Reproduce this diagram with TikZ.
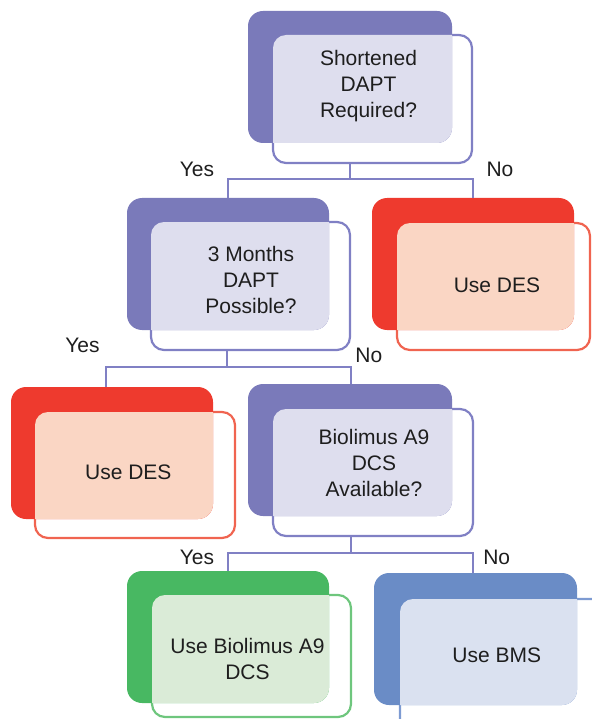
\documentclass[tikz,border=0pt]{standalone}
\usepackage{fontspec}
\setmainfont{Liberation Sans}
\usetikzlibrary{fit}
\definecolor{pdark}{RGB}{122,122,186}
\definecolor{plight}{RGB}{222,222,238}
\definecolor{pline}{RGB}{128,128,196}
\definecolor{rdark}{RGB}{238,58,46}
\definecolor{rlight}{RGB}{250,214,196}
\definecolor{rline}{RGB}{240,100,80}
\definecolor{gdark}{RGB}{72,184,98}
\definecolor{glight}{RGB}{218,235,215}
\definecolor{gline}{RGB}{110,198,125}
\definecolor{bdark}{RGB}{106,140,198}
\definecolor{blight}{RGB}{218,225,240}
\definecolor{bline}{RGB}{125,155,210}
\definecolor{txt}{RGB}{30,30,30}
\newcommand{\flowbox}[6]{%
  \node[frontbox, draw=#6line, fit={#4 #5}] (#1) {};
  \node[backbox, fill=#6dark, fit={#2 #3}] (#1b) {};
  \begin{scope}
    \clip[rounded corners=15pt] (#1b.north west) rectangle (#1b.south east);
    \fill[#6light, rounded corners=13pt] (#1.north west) rectangle (#1.south east);
  \end{scope}
}
\begin{document}
\begin{tikzpicture}[x=1pt,y=-1pt,
  backbox/.style={rectangle, rounded corners=15pt, inner sep=0pt, outer sep=0pt},
  frontbox/.style={rectangle, rounded corners=13pt, line width=2.2pt, inner sep=0pt, outer sep=0pt},
  lbl/.style={font=\fontsize{21}{26}\selectfont, text=txt, inner sep=0pt, align=center},
  conn/.style={draw=pline, line width=2.3pt}]
\useasboundingbox (0,0) rectangle (591,719);

% connectors
\coordinate (j1) at (350,179);
\coordinate (j2) at (227,367);
\coordinate (k2) at (106,367);
\coordinate (m2) at (351,367);
\coordinate (j3) at (351,553);
\coordinate (k3) at (228,553);
\coordinate (m3) at (473,553);

% boxes
\flowbox{q1}{(248,11)}{(452,143)}{(273,35)}{(472,163)}{p}
\flowbox{q2}{(127,198)}{(329,330)}{(151,222)}{(350,350)}{p}
\flowbox{d1}{(372,198)}{(574,330)}{(397,223)}{(590,350)}{r}
\flowbox{d2}{(11,387)}{(213,519)}{(35,412)}{(235,538)}{r}
\flowbox{q3}{(248,384)}{(452,516)}{(273,409)}{(473,536)}{p}
\flowbox{g1}{(127,571)}{(329,703)}{(152,595)}{(351,717)}{g}
\flowbox{b1}{(374,573)}{(577,705)}{(400,599)}{(610,735)}{b}

\draw[conn] (q1.south -| j1) -- (j1);
\draw[conn] (j1) -| (q2b.north);
\draw[conn] (j1) -| (d1b.north);
\draw[conn] (q2.south -| j2) -- (j2);
\draw[conn] (j2) -- (k2) -- (k2 |- d2b.north);
\draw[conn] (j2) -- (m2) -- (m2 |- q3b.north);
\draw[conn] (q3.south -| j3) -- (j3);
\draw[conn] (j3) -- (k3) -- (k3 |- g1b.north);
\draw[conn] (j3) -- (m3) -- (m3 |- b1b.north);

% texts
\node[lbl] (t1) at (368.5,86.2) {Shortened\\DAPT\\Required?};
\node[lbl] (t2) at (251,279.7) {3 Months\\DAPT\\Possible?};
\node[lbl] (t3) at (497,285) {Use DES};
\node[lbl] (t4) at (128.3,472.5) {Use DES};
\node[lbl] (t5) at (374,462.7) {Biolimus A9\\DCS\\Available?};
\node[lbl] (t6) at (247.5,658.5) {Use Biolimus A9\\DCS};
\node[lbl] (t7) at (496.7,655.5) {Use BMS};

\node[lbl] (y1) at (197,169) {Yes};
\node[lbl] (n1) at (500,169) {No};
\node[lbl] (y2) at (82.5,345) {Yes};
\node[lbl] (n2) at (368.8,355) {No};
\node[lbl] (y3) at (197,557.5) {Yes};
\node[lbl] (n3) at (496.7,557.5) {No};
\end{tikzpicture}
\end{document}
